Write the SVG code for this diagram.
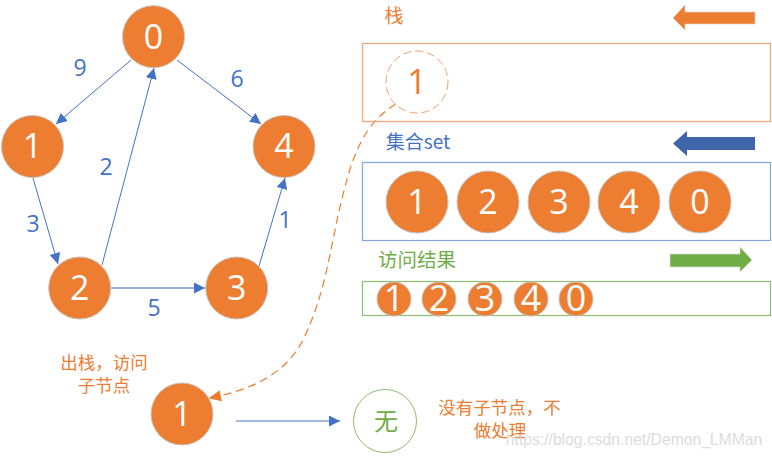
<svg xmlns="http://www.w3.org/2000/svg" width="772" height="457" viewBox="0 0 772 457">
<style>
text{font-family:"Open Sans","Noto Sans","Noto Sans CJK SC",sans-serif;text-anchor:middle}
.n circle{fill:#ed7d31;stroke:#c9c2bb;stroke-width:1}
.n text{fill:#fff}
.l{font-size:34px}.m{font-size:34px}.s{font-size:36px}
.e{font-size:23px;fill:#4472c4}
.cj{font-family:"Noto Sans CJK SC","Noto Sans",sans-serif;font-size:19px}
.t{font-size:17.500px}
.o{fill:#ed7d31}.b{fill:#4472c4}.g{fill:#70ad47}
.c line{stroke:#4472c4;stroke-width:1;marker-end:url(#a)}
</style>
<defs>
<marker id="a" markerUnits="userSpaceOnUse" markerWidth="12" markerHeight="12" refX="11" refY="5.500" orient="auto"><path d="M0 0L11 5.500L0 11Z" fill="#4472c4"/></marker>
<marker id="o" markerUnits="userSpaceOnUse" markerWidth="13" markerHeight="12" refX="12" refY="6" orient="auto"><path d="M1 1L12 6L1 11" fill="none" stroke="#ed7d31" stroke-width="1.200"/><path d="M12 6L1 1V11Z" fill="#ed7d31"/></marker>
</defs>
<g id="connectors" class="c">
<line x1="131" y1="60" x2="56" y2="124"/>
<line x1="177" y1="60" x2="261" y2="124"/>
<line x1="33" y1="178" x2="58" y2="264"/>
<line x1="102" y1="265" x2="154" y2="68"/>
<line x1="111" y1="288" x2="205" y2="288" style="stroke-width:1.400;stroke:#7f9cd6"/>
<line x1="259" y1="266" x2="285" y2="178"/>
<line x1="236" y1="421" x2="340" y2="421"/>
<path d="M396 104C360 125 350 165 340 207C330 250 325 295 303 340C285 375 250 390 210 398" fill="none" stroke="#ed7d31" stroke-width="1.200" stroke-dasharray="8 5" marker-end="url(#o)"/>
</g>
<g id="edge-labels" class="e">
<text x="80" y="76">9</text><text x="237" y="87">6</text><text x="106" y="175">2</text>
<text x="33" y="232">3</text><text x="285" y="228">1</text><text x="154" y="316">5</text>
</g>
<g id="node0" class="n"><circle cx="153.500" cy="36.700" r="31"/><text class="l" x="153.500" y="49">0</text></g>
<g id="node1" class="n"><circle cx="32.500" cy="146.500" r="31"/><text class="l" x="32.500" y="158">1</text></g>
<g id="node4" class="n"><circle cx="284" cy="146.500" r="31"/><text class="l" x="284" y="158">4</text></g>
<g id="node2" class="n"><circle cx="79.700" cy="288" r="31"/><text class="l" x="79.700" y="300">2</text></g>
<g id="node3" class="n"><circle cx="236.700" cy="288" r="31"/><text class="l" x="236.700" y="300">3</text></g>
<g id="stack">
<text class="cj o" x="394" y="23">栈</text>
<path d="M755 12V24H685V30L673 18L685 5V12Z" fill="#ed7d31" stroke="#d9d0c8" stroke-width="0.700"/>
<rect x="362.500" y="43.500" width="408" height="78" fill="none" stroke="#f4a77a" stroke-width="1.300"/>
<circle cx="417" cy="82" r="31" fill="#fff" stroke="#f0a070" stroke-dasharray="8 4" stroke-width="1"/>
<text class="l o" x="417" y="94">1</text>
</g>
<g id="set">
<text class="cj b" x="418" y="149">集合set</text>
<path d="M755 137V150H687V156L673 143.500L687 131V137Z" fill="#3f66ab"/>
<rect x="362.500" y="162.500" width="408" height="78" fill="none" stroke="#82a6d8" stroke-width="1.200"/>
</g>
<g id="set1" class="n"><circle cx="417" cy="202" r="31"/><text class="m" x="417" y="214">1</text></g>
<g id="set2" class="n"><circle cx="488" cy="202" r="31"/><text class="m" x="488" y="214">2</text></g>
<g id="set3" class="n"><circle cx="559" cy="202" r="31"/><text class="m" x="559" y="214">3</text></g>
<g id="set4" class="n"><circle cx="629" cy="202" r="31"/><text class="m" x="629" y="214">4</text></g>
<g id="set0" class="n"><circle cx="700" cy="202" r="31"/><text class="m" x="700" y="214">0</text></g>
<g id="result">
<text class="cj g" x="417" y="267" style="font-size:19.500px">访问结果</text>
<path d="M670 254H740V247L752 260L740 272V267H670Z" fill="#70ad47" stroke="#d8dcd0" stroke-width="0.700"/>
<rect x="362.500" y="281.500" width="408" height="34" fill="none" stroke="#8fbc6e" stroke-width="1.200"/>
</g>
<g id="res1" class="n"><circle cx="394" cy="299" r="17"/><text class="s" x="394" y="311">1</text></g>
<g id="res2" class="n"><circle cx="439" cy="299" r="17"/><text class="s" x="439" y="311">2</text></g>
<g id="res3" class="n"><circle cx="485" cy="299" r="17"/><text class="s" x="485" y="311">3</text></g>
<g id="res4" class="n"><circle cx="531" cy="299" r="17"/><text class="s" x="531" y="311">4</text></g>
<g id="res0" class="n"><circle cx="576" cy="299" r="17"/><text class="s" x="576" y="311">0</text></g>
<g id="pop-label" class="o"><text class="cj t" x="104" y="369">出栈，访问</text><text class="cj t" x="104" y="392">子节点</text></g>
<g id="pop" class="n"><circle cx="182" cy="414" r="31"/><text class="l" x="182" y="426">1</text></g>
<g id="none"><circle cx="385" cy="421" r="31.500" fill="#fff" stroke="#8fbc6e" stroke-width="1"/><text class="g cj" x="386" y="430" style="font-size:24px">无</text></g>
<g id="none-label" class="o"><text class="cj t" x="499.500" y="414">没有子节点，不</text><text class="cj t" x="500" y="437">做处理</text></g>
<text x="634" y="445" style="font-family:'Liberation Sans',sans-serif;font-size:15.700px;fill:#dcdcdc">https://blog.csdn.net/Demon_LMMan</text>
</svg>
